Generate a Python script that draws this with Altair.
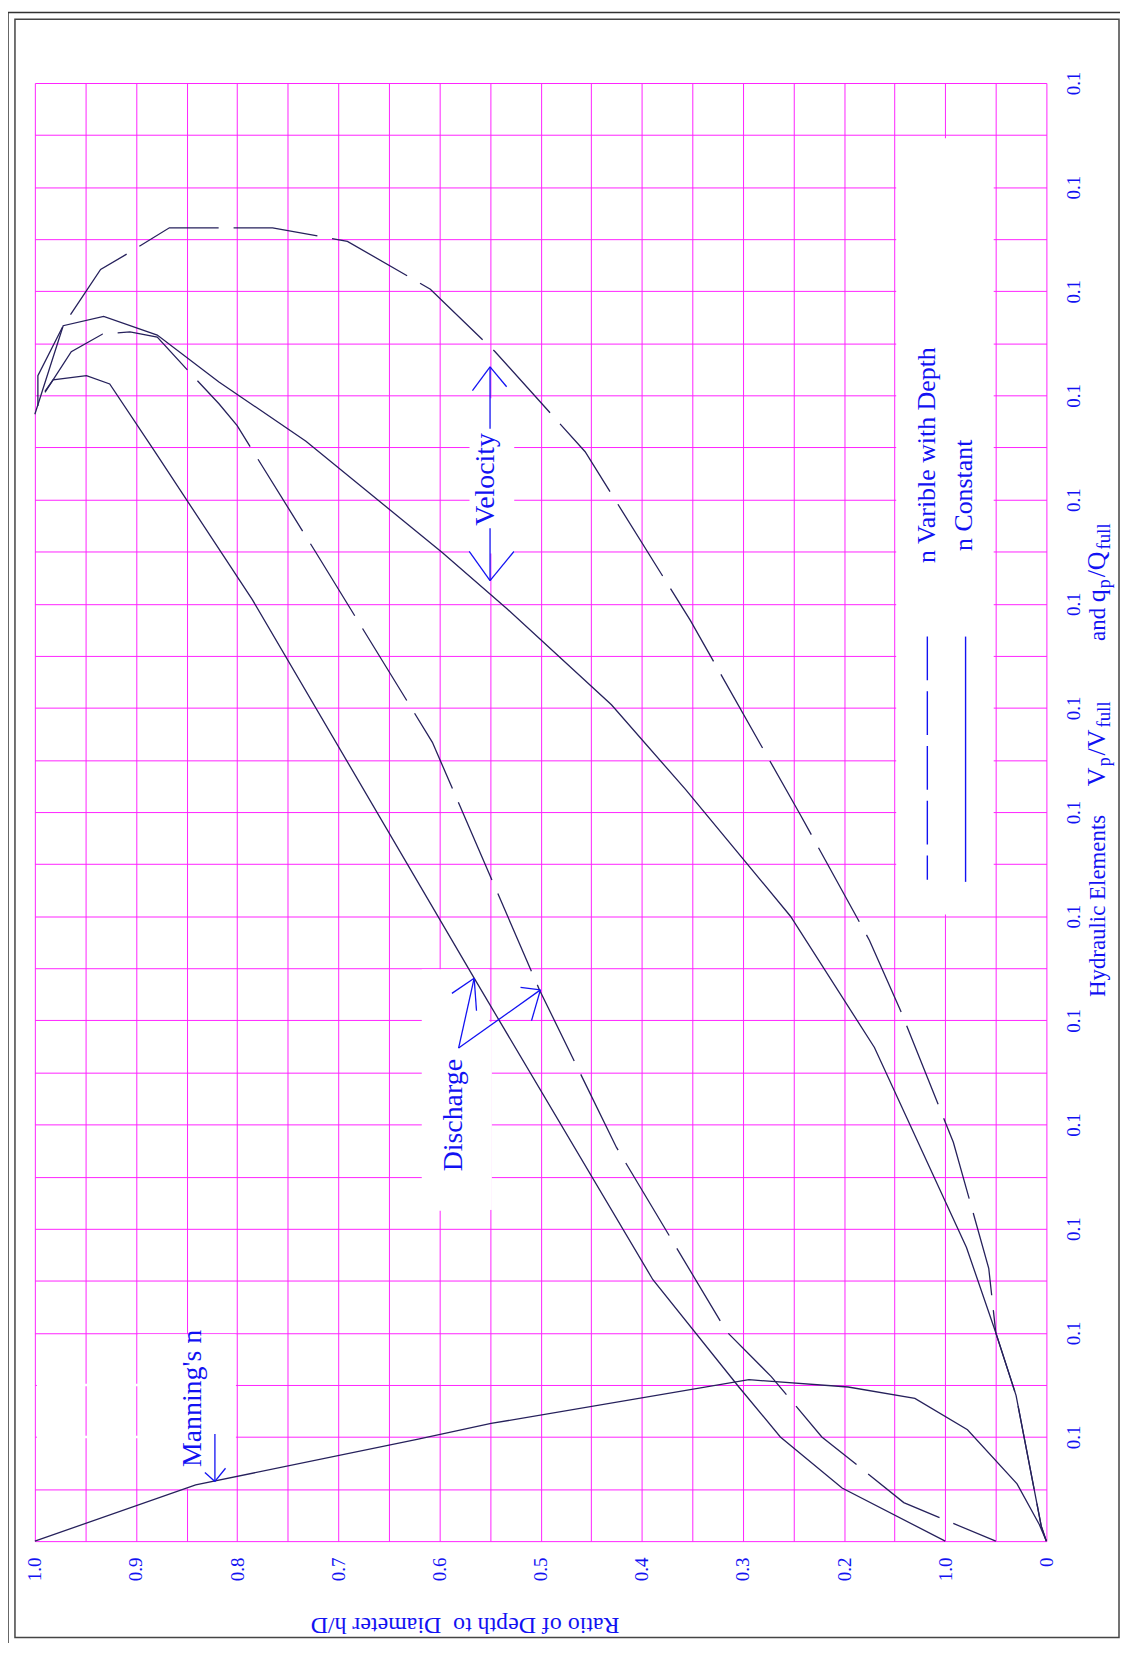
import altair as alt
import pandas as pd

FONT = "Liberation Serif"
BLUE = "#1212f2"
MAGENTA = "#ff22ff"
INK = "#26215c"

# ---------------- curve data (h/D, hydraulic element ratio) ----------------
vel_var_hd = [0.997, 0.997, 0.972, 0.935, 0.907, 0.867, 0.765, 0.691, 0.609, 0.545,
              0.456, 0.352, 0.243, 0.175, 0.144, 0.092, 0.057, 0.050, 0.030, 0.005, 0.0]
vel_var_v = [1.090, 1.119, 1.167, 1.221, 1.237, 1.261, 1.261, 1.248, 1.202, 1.142,
             1.046, 0.884, 0.697, 0.577, 0.509, 0.383, 0.262, 0.200, 0.140, 0.014, 0.0]

vel_const_hd = [1.0, 0.972, 0.932, 0.879, 0.818, 0.732, 0.597, 0.533, 0.430, 0.357,
                0.253, 0.170, 0.079, 0.050, 0.030, 0.005, 0.0]
vel_const_v = [1.082, 1.167, 1.176, 1.158, 1.113, 1.056, 0.949, 0.895, 0.803, 0.722,
               0.600, 0.474, 0.282, 0.200, 0.140, 0.014, 0.0]

dis_var_hd = [0.990, 0.964, 0.933, 0.906, 0.879, 0.843, 0.818, 0.800, 0.722, 0.607,
              0.501, 0.425, 0.316, 0.272, 0.222, 0.187, 0.141, 0.102, 0.050]
dis_var_v = [1.103, 1.142, 1.159, 1.161, 1.156, 1.118, 1.092, 1.071, 0.949, 0.767,
             0.529, 0.378, 0.201, 0.158, 0.100, 0.073, 0.037, 0.021, 0.0]

dis_const_hd = [0.990, 0.982, 0.949, 0.926, 0.882, 0.785, 0.566, 0.389, 0.304, 0.263, 0.202, 0.100]
dis_const_v = [1.104, 1.115, 1.119, 1.111, 1.047, 0.904, 0.541, 0.251, 0.148, 0.100, 0.051, 0.0]

mann_hd = [1.0, 0.841, 0.621, 0.549, 0.294, 0.196, 0.130, 0.078, 0.029, 0.007, 0.0]
mann_v = [0.0, 0.054, 0.098, 0.113, 0.155, 0.148, 0.137, 0.107, 0.055, 0.016, 0.0]

# ---------------- axes ----------------
hd_grid = [round(i * 0.05, 2) for i in range(21)]
v_grid = [round(i * 0.05, 2) for i in range(29)]
hd_tick_values = [0.0, 0.1, 0.2, 0.3, 0.4, 0.5, 0.6, 0.7, 0.8, 0.9, 1.0]
hd_tick_labels = ["0", "1.0", "0.2", "0.3", "0.4", "0.5", "0.6", "0.7", "0.8", "0.9", "1.0"]
v_tick_values = [0.1, 0.2, 0.3, 0.4, 0.5, 0.6, 0.7, 0.8, 0.9, 1.0, 1.1, 1.2, 1.3, 1.4]
v_tick_labels = ["0.1", "0.1", "0.1", "0.1", "0.1", "0.1", "0.1",
                 "0.1", "0.1", "0.1", "0.1", "0.1", "0.1", "0.1"]
x_title = "Ratio of Depth to\u00a0 Diameter h/D"

# ---------------- annotations ----------------
box_hd1 = [0.5703, 0.6175, 0.5516, 0.8982, 0.998, 0.998, 0.1485]
box_hd2 = [0.5261, 0.5508, 0.5482, 0.8014, 0.8014, 0.8014, 0.0521]
box_v1 = [1.0973, 0.5491, 0.4985, 0.1986, 0.1512, 0.1012, 1.3470]
box_v2 = [0.9483, 0.3171, 0.3180, 0.0506, 0.1488, 0.0988, 0.6016]

arrow_hd1 = [0.55, 0.55, 0.5674, 0.5336, 0.5706, 0.5264,
             0.5811, 0.5811, 0.5877, 0.5634, 0.5199, 0.5090,
             0.822, 0.8319, 0.8115]
arrow_v1 = [1.1275, 0.9725, 1.1046, 1.1084, 0.9502, 0.9502,
            0.4734, 0.4734, 0.5259, 0.5093, 0.5316, 0.4997,
            0.1029, 0.0659, 0.0700]
arrow_hd2 = [0.55, 0.55, 0.55, 0.55, 0.55, 0.55,
             0.5657, 0.5002, 0.5657, 0.5657, 0.5002, 0.5002,
             0.822, 0.822, 0.822]
arrow_v2 = [1.068, 0.9222, 1.1275, 1.1275, 0.9222, 0.9222,
            0.5405, 0.5293, 0.5405, 0.5405, 0.5293, 0.5293,
            0.0573, 0.0573, 0.0573]

note_text = ["Velocity", "Discharge", "Manning's n"]
note_hd = [0.5536, 0.586, 0.8437]
note_v = [1.0194, 0.409, 0.137]

legend_text = ["n  Varible with Depth", "n  Constant"]
legend_hd = [0.1180, 0.0810]
legend_v = [0.9392, 0.9507]
legend_line_hd = [0.1177, 0.0799]
legend_line_v1 = [0.8685, 0.8685]
legend_line_v2 = [0.6350, 0.6330]

title_main = ["Hydraulic Elements", "V", "/V", "and", "q", "/Q"]
title_main_v = [0.5224, 0.7248, 0.7544, 0.8643, 0.9015, 0.9254]
title_main_size = [23, 26, 26, 23, 26, 26]
title_sub = ["p", "full", "p", "full"]
title_sub_v = [0.7439, 0.7812, 0.9149, 0.9521]
title_sub_size = [18, 19, 18, 19]
title_main_hd = -0.0580
title_sub_hd = -0.0629

# ---------------- build tables ----------------
def curve_rows(name, hd, v):
    return [{"series": name, "hd": a, "v": b, "i": k} for k, (a, b) in enumerate(zip(hd, v))]

dashed_df = pd.DataFrame(curve_rows("vel_var", vel_var_hd, vel_var_v)
                         + curve_rows("dis_var", dis_var_hd, dis_var_v))
solid_df = pd.DataFrame(curve_rows("vel_const", vel_const_hd, vel_const_v)
                        + curve_rows("dis_const", dis_const_hd, dis_const_v)
                        + curve_rows("manning", mann_hd, mann_v))
boxes = pd.DataFrame({"hd": box_hd1, "hd2": box_hd2, "v": box_v1, "v2": box_v2})
arrows = pd.DataFrame({"hd": arrow_hd1, "hd2": arrow_hd2, "v": arrow_v1, "v2": arrow_v2})
notes = pd.DataFrame({"hd": note_hd, "v": note_v, "t": note_text})
legend_df = pd.DataFrame({"hd": legend_hd, "v": legend_v, "t": legend_text})
leg_dash = pd.DataFrame({"hd": legend_line_hd[:1], "v": legend_line_v1[:1], "v2": legend_line_v2[:1]})
leg_solid = pd.DataFrame({"hd": legend_line_hd[1:], "v": legend_line_v1[1:], "v2": legend_line_v2[1:]})
tmain = pd.DataFrame({"hd": [title_main_hd] * len(title_main), "v": title_main_v,
                      "t": title_main, "s": title_main_size})
tsub = pd.DataFrame({"hd": [title_sub_hd] * len(title_sub), "v": title_sub_v,
                     "t": title_sub, "s": title_sub_size})
one = pd.DataFrame({"a": [0]})


def label_expr(values, labels):
    expr = "''"
    for val, lab in zip(values, labels):
        expr = "abs(datum.value - %s) < 0.001 ? '%s' : (%s)" % (val, lab, expr)
    return expr


x_scale = alt.Scale(domain=[0, 1], reverse=True, nice=False, zero=False)
y_scale = alt.Scale(domain=[0, 1.4], nice=False, zero=False)

x_axis = alt.Axis(values=hd_grid, grid=True, gridColor=MAGENTA, gridWidth=1, gridOpacity=1,
                  domain=False, ticks=False, labelExpr=label_expr(hd_tick_values, hd_tick_labels),
                  labelAngle=270, labelAlign="right", labelBaseline="middle", labelPadding=16,
                  labelFont=FONT, labelFontSize=19, labelColor=BLUE, labelOverlap=False,
                  labelFlush=False,
                  title=x_title, titleAngle=180, titleX=432, titleY=84, titleFont=FONT,
                  titleFontSize=24, titleFontWeight="normal", titleColor=BLUE,
                  titleAlign="center", titleBaseline="middle")
y_axis = alt.Axis(orient="right", values=v_grid, grid=True, gridColor=MAGENTA, gridWidth=1,
                  gridOpacity=1, domain=False, ticks=False,
                  labelExpr=label_expr(v_tick_values, v_tick_labels),
                  labelAngle=270, labelAlign="center", labelBaseline="top", labelPadding=18,
                  labelFont=FONT, labelFontSize=19, labelColor=BLUE, labelOverlap=False,
                  labelFlush=False, title="")


def X():
    return alt.X("hd", type="quantitative", scale=x_scale, axis=x_axis)


def Y():
    return alt.Y("v", type="quantitative", scale=y_scale, axis=y_axis)


L_boxes = alt.Chart(boxes).mark_rect(color="white", opacity=1).encode(
    x=X(), x2="hd2:Q", y=Y(), y2="v2:Q")

L_solid = alt.Chart(solid_df).mark_line(color=INK, strokeWidth=1.3).encode(
    x=X(), y=Y(), detail="series:N", order="i:Q")
L_dashed = alt.Chart(dashed_df).mark_line(color=INK, strokeWidth=1.3, strokeDash=[85, 15]).encode(
    x=X(), y=Y(), detail="series:N", order="i:Q")

L_arrows = alt.Chart(arrows).mark_rule(color=BLUE, strokeWidth=1.3).encode(
    x=X(), x2="hd2:Q", y=Y(), y2="v2:Q")
L_leg_dash = alt.Chart(leg_dash).mark_rule(color=BLUE, strokeWidth=1.4, strokeDash=[44, 11]).encode(
    x=X(), y=Y(), y2="v2:Q")
L_leg_solid = alt.Chart(leg_solid).mark_rule(color=BLUE, strokeWidth=1.4).encode(
    x=X(), y=Y(), y2="v2:Q")

L_notes = alt.Chart(notes).mark_text(angle=270, font=FONT, fontSize=28, color=BLUE,
                                     align="center", baseline="middle").encode(
    x=X(), y=Y(), text="t:N")
L_legend = alt.Chart(legend_df).mark_text(angle=270, font=FONT, fontSize=26, color=BLUE,
                                          align="left", baseline="middle").encode(
    x=X(), y=Y(), text="t:N")
L_tmain = alt.Chart(tmain).mark_text(angle=270, font=FONT, color=BLUE,
                                     align="left", baseline="alphabetic").encode(
    x=X(), y=Y(), text="t:N", size=alt.Size("s:Q", scale=None, legend=None))
L_tsub = alt.Chart(tsub).mark_text(angle=270, font=FONT, color=BLUE,
                                   align="left", baseline="alphabetic").encode(
    x=X(), y=Y(), text="t:N", size=alt.Size("s:Q", scale=None, legend=None))

L_frame_in = alt.Chart(one).mark_rect(filled=False, stroke="#444444", strokeWidth=1.5).encode(
    x=alt.value(-20), x2=alt.value(1090), y=alt.value(-64), y2=alt.value(1563))
L_frame_out_v = alt.Chart(one).mark_rule(color="#333333", strokeWidth=1.5).encode(
    x=alt.value(-27), y=alt.value(-71), y2=alt.value(1570))
L_frame_out_h = alt.Chart(one).mark_rule(color="#333333", strokeWidth=1.5).encode(
    x=alt.value(-27), x2=alt.value(1100), y=alt.value(-71))

chart = alt.layer(
    L_boxes, L_solid, L_dashed, L_arrows, L_leg_dash, L_leg_solid,
    L_notes, L_legend, L_tmain, L_tsub, L_frame_in, L_frame_out_v, L_frame_out_h
).properties(
    width=1017, height=1466,
    padding={"left": 27, "top": 71, "right": 74, "bottom": 98},
    autosize=alt.AutoSizeParams(type="none"),
    background="white",
).configure_view(stroke=None)

chart.save("out.html", embed_options={"renderer": "svg", "actions": False})
